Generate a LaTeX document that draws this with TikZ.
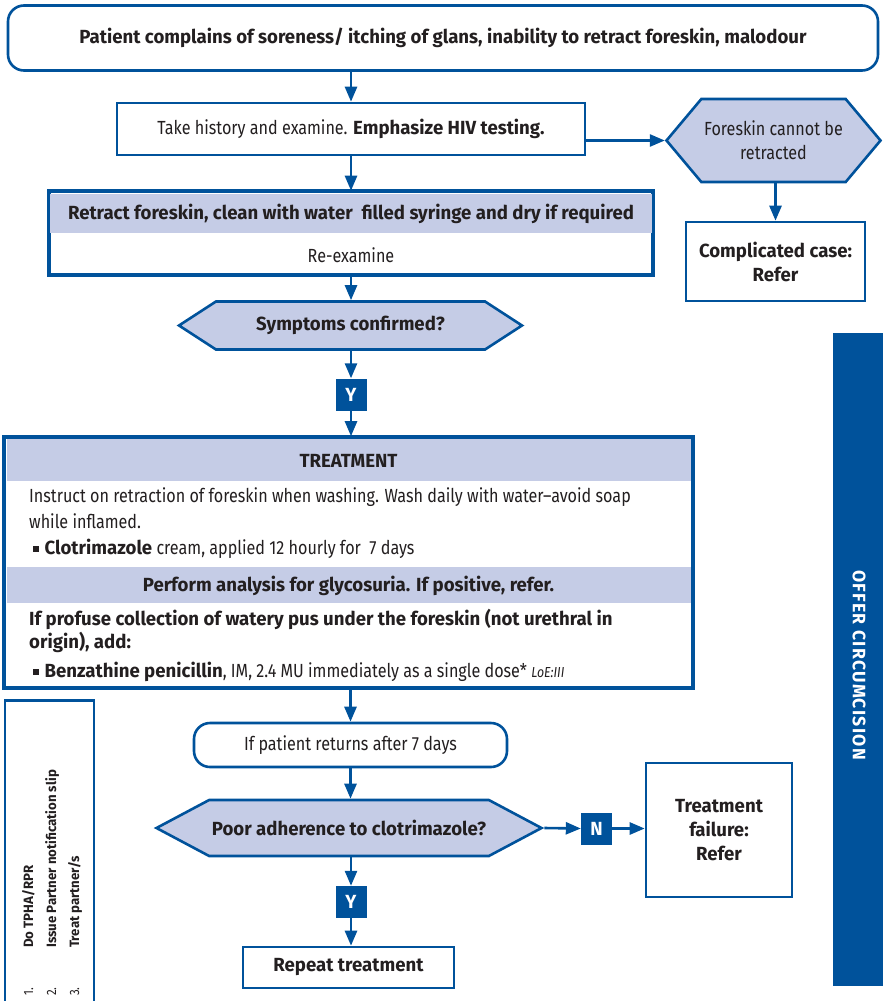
\documentclass[tikz,border=0pt]{standalone}
\usepackage{fontspec}
\setmainfont{Fira Sans}[FakeStretch=0.85, BoldFeatures={FakeStretch=0.98}]
\usetikzlibrary{arrows.meta,shapes.symbols}
\definecolor{nblue}{RGB}{0,82,155}
\definecolor{nfill}{RGB}{197,204,230}
\definecolor{txt}{RGB}{35,31,32}
\newcommand\fsz[2]{\fontsize{#1}{#2}\selectfont}
\newcommand\bul{\hspace{4pt}\rule[0.12em]{0.3em}{0.3em}\hspace{0.3em}}

\begin{document}
\begin{tikzpicture}[x=1pt,y=-1pt,
  base/.style={draw=nblue, line width=2.6pt, fill=white, inner sep=0pt, align=center,
               text=txt, font=\fsz{19}{24}},
  plainbox/.style={base, rectangle},
  roundbox/.style={base, rectangle, rounded corners=16pt},
  hexbox/.style={base, fill=nfill, shape=signal, signal to=west and east},
  tag/.style={fill=nblue, text=white, inner sep=0pt, minimum width=31pt,
              minimum height=32pt, font=\fsz{19}{20}\bfseries},
  arr/.style={draw=nblue, line width=2.6pt, -{Triangle[width=12pt,length=15pt]}},
  line/.style={anchor=base west, inner sep=0pt, text=txt, font=\fsz{19}{24}},
  head/.style={inner sep=0pt, text=txt, font=\fsz{19}{24}\bfseries},
  note/.style={rotate=90, anchor=base west, inner sep=0pt, text=txt, font=\fsz{13.5}{16}\bfseries}
]
\useasboundingbox (0,0) rectangle (883,1001);

% --- top of the flow ---------------------------------------------------
\node[roundbox, minimum width=870pt, minimum height=65pt, font=\fsz{19}{24}\bfseries] (top) at (443,38)
  {Patient complains of soreness/ itching of glans, inability to retract foreskin, malodour};

\node[plainbox, minimum width=468pt, minimum height=52pt] (hist) at (351,129)
  {Take history and examine. \textbf{Emphasize HIV testing.}};

\node[hexbox, minimum width=214pt, minimum height=83pt, signal pointer angle=100] (fore) at (773.5,140.5)
  {Foreskin cannot be\\retracted};

\node[plainbox, minimum width=179pt, minimum height=79pt, font=\fsz{19}{24}\bfseries] (comp) at (775.5,261.5)
  {Complicated case:\\Refer};

% retract / re-examine box with shaded heading
\node[plainbox, minimum width=602pt, minimum height=82pt] (retr) at (351,233) {};
\fill[nfill] (50,194) rectangle (652,233);
\draw[nblue, line width=2.6pt] (retr.north west) rectangle (retr.south east);
\node[head] (retrhead) at (351,213.5) {Retract foreskin, clean with water\ \ filled syringe and dry if required};
\node[head, font=\fsz{19}{24}] (reexam) at (351,255.5) {Re-examine};

\node[hexbox, minimum width=343pt, minimum height=48pt, signal pointer angle=66,
      font=\fsz{19}{24}\bfseries] (sym) at (350.5,325.5) {Symptoms confirmed?};

\node[tag] (y1) at (351,394.5) {Y};

% --- treatment block -----------------------------------------------------
\node[plainbox, minimum width=687pt, minimum height=250pt] (treat) at (348.5,562.5) {};
\fill[nfill] (6.5,439) rectangle (690.5,481);
\fill[nfill] (6.5,567) rectangle (690.5,603);
\draw[nblue, line width=2.6pt] (treat.north west) rectangle (treat.south east);

\node[head] (treathead) at (348.5,460.5) {TREATMENT};
\node[line] (t1) at (29,502) {Instruct on retraction of foreskin when washing. Wash daily with water–avoid soap};
\node[line] (t2) at (29,528) {while inflamed.};
\node[line] (t3) at (29,554) {\bul\textbf{Clotrimazole} cream, applied 12 hourly for\ \ 7 days};
\node[head] (gly) at (348.5,585.5) {Perform analysis for glycosuria. If positive, refer.};
\node[line, font=\fsz{19}{24}\bfseries] (t4) at (29,625) {If profuse collection of watery pus under the foreskin (not urethral in};
\node[line, font=\fsz{19}{24}\bfseries] (t5) at (29,648) {origin), add:};
\node[line] (t6) at (29,677) {\bul\textbf{Benzathine penicillin}, IM, 2.4 MU immediately as a single dose* {\itshape\fsz{14.5}{16}LoE:III}};

% --- follow-up ---------------------------------------------------------
\node[roundbox, minimum width=313pt, minimum height=44pt] (ret) at (350.5,745)
  {If patient returns after 7 days};

\node[hexbox, minimum width=385pt, minimum height=56pt, signal pointer angle=56,
      font=\fsz{19}{24}\bfseries] (poor) at (349,828) {Poor adherence to clotrimazole?};

\node[tag] (n1) at (596.5,828.5) {N};

\node[plainbox, minimum width=146pt, minimum height=134pt, font=\fsz{19}{24}\bfseries] (fail) at (719,830)
  {Treatment\\failure:\\Refer};

\node[tag] (y2) at (351,902) {Y};

\node[plainbox, minimum width=211pt, minimum height=41pt, font=\fsz{19}{24}\bfseries] (rep) at (348.5,967.5)
  {Repeat treatment};

% --- side panels ---------------------------------------------------------
\node[plainbox, minimum width=89pt, minimum height=310pt] (notes) at (49.5,855.5) {};
\node[note, font=\fsz{13.5}{16}] (n1num) at (33,996) {1.};
\node[note, font=\fsz{13.5}{16}] (n2num) at (56,996) {2.};
\node[note, font=\fsz{13.5}{16}] (n3num) at (79,996) {3.};
\node[note] (n1txt) at (33,948) {Do TPHA/RPR};
\node[note] (n2txt) at (56,948) {Issue Partner notification slip};
\node[note] (n3txt) at (79,948) {Treat partner/s};

\node[fill=nblue, inner sep=0pt, minimum width=51pt, minimum height=653pt] (bar) at (858.5,659.5) {};
\node[rotate=-90, inner sep=0pt, text=white, font=\fsz{18}{20}\bfseries\addfontfeature{LetterSpace=7}]
  (barlabel) at (859,665) {OFFER CIRCUMCISION};

% --- connectors ----------------------------------------------------------
\draw[arr] (top.south -| hist.north) -- (hist.north);
\draw[arr] (fore.west -| hist.east) -- (fore.west);
\draw[arr] (fore.south -| comp.north) -- (comp.north);
\draw[arr] (hist.south) -- (retr.north);
\draw[arr] (retr.south) -- (retr.south |- sym.north);
\draw[arr] (sym.south -| y1.north) -- (y1.north);
\draw[arr] (y1.south) -- (y1.south |- treat.north);
\draw[arr] (treat.south -| ret.north) -- (ret.north);
\draw[arr] (ret.south) -- (ret.south |- poor.north);
\draw[arr] (poor.east) -- (n1.west);
\draw[arr] (n1.east) -- (n1.east -| fail.west);
\draw[arr] (poor.south -| y2.north) -- (y2.north);
\draw[arr] (y2.south) -- (y2.south |- rep.north);
\end{tikzpicture}
\end{document}
